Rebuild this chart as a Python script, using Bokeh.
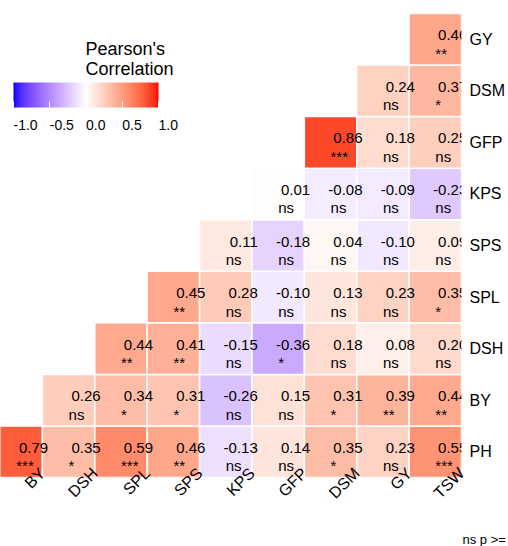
import numpy as np
from math import pi
from bokeh.plotting import figure
from bokeh.layouts import column
from bokeh.models import (ColumnDataSource, LinearColorMapper, ColorBar, FixedTicker,
                          Range1d, Label, Title)
from bokeh.core.properties import value
from bokeh.embed import file_html
from bokeh.resources import INLINE

# ---------------- data ----------------
x_vars = ["BY", "DSH", "SPL", "SPS", "KPS", "GFP", "DSM", "GY", "TSW"]
y_vars = ["PH", "BY", "DSH", "SPL", "SPS", "KPS", "GFP", "DSM", "GY"]  # bottom -> top

r_PH  = [0.79, 0.35, 0.59, 0.46, -0.13, 0.14, 0.35, 0.23, 0.55]
r_BY  = [0.26, 0.34, 0.31, -0.26, 0.15, 0.31, 0.39, 0.44]
r_DSH = [0.44, 0.41, -0.15, -0.36, 0.18, 0.08, 0.20]
r_SPL = [0.45, 0.28, -0.10, 0.13, 0.23, 0.35]
r_SPS = [0.11, -0.18, 0.04, -0.10, 0.09]
r_KPS = [0.01, -0.08, -0.09, -0.23]
r_GFP = [0.86, 0.18, 0.25]
r_DSM = [0.24, 0.37]
r_GY  = [0.46]

s_PH  = ["***", "*", "***", "**", "ns", "ns", "*", "ns", "***"]
s_BY  = ["ns", "*", "*", "ns", "ns", "*", "**", "**"]
s_DSH = ["**", "**", "ns", "*", "ns", "ns", "ns"]
s_SPL = ["**", "ns", "ns", "ns", "ns", "*"]
s_SPS = ["ns", "ns", "ns", "ns", "ns"]
s_KPS = ["ns", "ns", "ns", "ns"]
s_GFP = ["***", "ns", "ns"]
s_DSM = ["ns", "*"]
s_GY  = ["**"]

legend_ticks = [-1.0, -0.5, 0.0, 0.5, 1.0]
legend_title = ["Pearson's", "Correlation"]
caption = "ns p >="   # the part of the caption that is visible in the original

rows_r = [r_PH, r_BY, r_DSH, r_SPL, r_SPS, r_KPS, r_GFP, r_DSM, r_GY]
rows_s = [s_PH, s_BY, s_DSH, s_SPL, s_SPS, s_KPS, s_GFP, s_DSM, s_GY]

xs, ys, rs, labs, sigs = [], [], [], [], []
for yi, (rr, ss) in enumerate(zip(rows_r, rows_s)):
    start = len(x_vars) - len(rr)
    for k, (r, s) in enumerate(zip(rr, ss)):
        xs.append(start + k)
        ys.append(yi)
        rs.append(r)
        labs.append(f"{r:.2f}")
        sigs.append(s)

src = ColumnDataSource(dict(x=xs, y=ys, r=rs, lab=labs, sig=sigs))

# ---------------- colour scale (Lab interpolation blue-white-red) ----------------
M = np.array([[0.4124564, 0.3575761, 0.1804375],
              [0.2126729, 0.7151522, 0.0721750],
              [0.0193339, 0.1191920, 0.9503041]])
Minv = np.linalg.inv(M)
WN = np.array([0.95047, 1.0, 1.08883])
D = 6 / 29


def to_lab(hexc):
    c = np.array([int(hexc[i:i + 2], 16) for i in (1, 3, 5)]) / 255.0
    lin = np.where(c <= 0.04045, c / 12.92, ((c + 0.055) / 1.055) ** 2.4)
    xyz = M @ lin / WN
    f = np.where(xyz > D ** 3, np.cbrt(xyz), xyz / (3 * D * D) + 4 / 29)
    return np.array([116 * f[1] - 16, 500 * (f[0] - f[1]), 200 * (f[1] - f[2])])


def to_hex(lab):
    L, a, b = lab
    fy = (L + 16) / 116
    f = np.array([fy + a / 500, fy, fy - b / 200])
    xyz = np.where(f > D, f ** 3, 3 * D * D * (f - 4 / 29)) * WN
    lin = np.clip(Minv @ xyz, 0, 1)
    c = np.where(lin <= 0.0031308, 12.92 * lin, 1.055 * lin ** (1 / 2.4) - 0.055)
    c = np.clip(np.round(c * 255), 0, 255).astype(int)
    return "#%02x%02x%02x" % tuple(c)


lab_lo, lab_mid, lab_hi = to_lab("#0000ff"), to_lab("#ffffff"), to_lab("#ff0000")
palette = []
for t in np.linspace(-1, 1, 256):
    if t < 0:
        palette.append(to_hex(lab_mid + (-t) * (lab_lo - lab_mid)))
    else:
        palette.append(to_hex(lab_mid + t * (lab_hi - lab_mid)))
mapper = LinearColorMapper(palette=palette, low=-1, high=1)

FONT = "Liberation Sans"

# ---------------- main figure ----------------
X_END = len(x_vars) - 0.5
p = figure(width=508, height=520, x_range=Range1d(-0.3, X_END), y_range=Range1d(-0.5, len(y_vars) - 0.5),
           output_backend="svg", toolbar_location=None, y_axis_location="right",
           min_border_left=0, min_border_right=46, min_border_top=13, min_border_bottom=43)
p.outline_line_color = None
p.grid.visible = False
p.background_fill_color = "white"
p.border_fill_color = "white"

p.rect(x="x", y="y", width=1, height=1, source=src,
       fill_color={"field": "r", "transform": mapper}, line_color="white", line_width=1.5)

p.text(x="x", y="y", text="lab", source=src, text_align="right", text_baseline="alphabetic",
       x_offset=32, y_offset=-4, text_font=value(FONT), text_font_size="15px", text_color="black")
p.text(x="x", y="y", text="sig", source=src, text_align="left", text_baseline="alphabetic",
       x_offset=0, y_offset=14, text_font=value(FONT), text_font_size="15px", text_color="black")

# x axis (rotated labels, set slightly right of the cell centres like the original)
XOFF = 0.5
xt = [min(i + XOFF, X_END) for i in range(len(x_vars))]
p.xaxis.ticker = FixedTicker(ticks=xt)
p.xaxis.major_label_overrides = {t: n for t, n in zip(xt, x_vars)}
p.xaxis.major_label_orientation = pi / 4
p.xaxis.major_label_standoff = -7

p.yaxis.ticker = FixedTicker(ticks=list(range(len(y_vars))))
p.yaxis.major_label_overrides = {i: n for i, n in enumerate(y_vars)}
p.yaxis.major_label_standoff = 8

for ax in (p.xaxis, p.yaxis):
    ax.axis_line_color = None
    ax.major_tick_line_color = None
    ax.minor_tick_line_color = None
    ax.major_tick_out = 0
    ax.major_tick_in = 0
    ax.minor_tick_out = 0
    ax.minor_tick_in = 0
    ax.major_label_text_font = FONT
    ax.major_label_text_font_size = "16px"
    ax.major_label_text_color = "black"

# colour bar legend
BAR_X, BAR_W = 13, 145
cb = ColorBar(color_mapper=mapper, orientation="horizontal", location=(BAR_X, 370),
              width=BAR_W, height=25, padding=0, title=None,
              ticker=FixedTicker(ticks=legend_ticks),
              major_label_overrides={t: "" for t in legend_ticks},
              major_label_text_font_size="1px", label_standoff=0,
              major_tick_line_color="white", major_tick_in=6, major_tick_out=0,
              minor_tick_line_color=None, bar_line_color=None,
              background_fill_alpha=0, border_line_color=None)
p.add_layout(cb, "center")

# legend tick labels, left-aligned at their tick as in the original
for t in legend_ticks:
    p.add_layout(Label(x=BAR_X + (t - mapper.low) / (mapper.high - mapper.low) * BAR_W, y=353,
                       x_units="screen", y_units="screen", text=f"{t:.1f}",
                       text_font=FONT, text_font_size="14px", text_color="black",
                       text_align="left", text_baseline="alphabetic"))

for txt, yb in zip(legend_title, [429, 409]):
    p.add_layout(Label(x=85, y=yb, x_units="screen", y_units="screen", text=txt,
                       text_font=FONT, text_font_size="18px", text_color="black",
                       text_baseline="alphabetic"))

# ---------------- caption strip (a title in a thin figure below) ----------------
cap = figure(width=508, height=26, x_range=Range1d(0, 1), y_range=Range1d(0, 1),
             output_backend="svg", toolbar_location=None, x_axis_type=None, y_axis_type=None,
             min_border=0)
cap.outline_line_color = None
cap.grid.visible = False
cap.background_fill_color = "white"
cap.border_fill_color = "white"
cap.add_layout(Title(text=caption, align="left", offset=462, standoff=0,
                     vertical_align="bottom", text_font=FONT, text_font_size="13px",
                     text_font_style="normal", text_color="black"), "below")

layout = column(p, cap, spacing=0)

open("out.html", "w").write(file_html(layout, INLINE))
